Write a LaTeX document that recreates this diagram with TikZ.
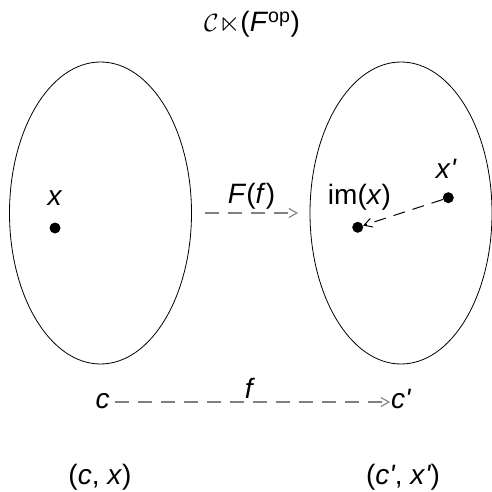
\documentclass[tikz,border=0pt]{standalone}
\usepackage{amssymb}
\usepackage{fontspec}
\setmainfont{Liberation Sans}
\newfontfamily\pf{Liberation Sans}
\usetikzlibrary{arrows.meta,shapes.geometric}
\newcommand{\pr}{{\pf\itshape '}}
\tikzset{
  lbl/.style={font=\fontsize{28}{32}\selectfont, inner sep=1pt},
  blob/.style={draw, ellipse, line width=0.8pt, inner sep=0pt, minimum width=182pt, minimum height=302pt},
  dotn/.style={circle, fill, inner sep=0pt, minimum size=11pt},
  grayarrow/.style={draw=black!50, line width=1.6pt, dash pattern=on 14pt off 9pt, -{Straight Barb[length=8pt,width=9pt,line width=1.1pt]}},
  blackarrow/.style={draw=black, line width=1pt, dash pattern=on 12pt off 8pt, -{Straight Barb[length=8pt,width=9pt,line width=1pt]}}
}
\begin{document}
\begin{tikzpicture}[x=1pt,y=-1pt]
\useasboundingbox (0,0) rectangle (491,492);
\node[lbl, anchor=base] (title) at (252,32) {$\mathcal{C}\ltimes$(\textit{F}\textsuperscript{op})};
\node[blob] (L) at (100.5,213) {};
\node[blob] (R) at (401,213) {};
\node[dotn] (xd) at (55,228) {};
\node[lbl, anchor=base] (xl) at (55,205) {\textit{x}};
\node[dotn] (imd) at (357.7,227.3) {};
\node[lbl, anchor=base] (iml) at (359.5,204) {im(\textit{x})};
\node[dotn] (xpd) at (448.3,197.7) {};
\node[lbl, anchor=base] (xpl) at (446,178) {\textit{x}\pr};
\draw[blackarrow] (xpd) -- (imd);
\coordinate (ff1) at (205,213);
\coordinate (ff2) at (298,213);
\draw[grayarrow] (ff1) -- (ff2);
\node[lbl, anchor=base] (Ff) at (251.5,203) {\textit{F}(\textit{f})};
\node[lbl, anchor=base] (c) at (102.5,408) {\textit{c}};
\node[lbl, anchor=base west] (cp) at (390,408) {\textit{c}\pr};
\coordinate (cs) at (115,402);
\draw[grayarrow] (cs) -- (cp.west |- cs);
\node[lbl, anchor=base] (f) at (250,398) {\textit{f}};
\node[lbl, anchor=base] (cx) at (100,484) {(\textit{c}, \textit{x})};
\node[lbl, anchor=base] (cpxp) at (403,484) {(\textit{c}\pr, \textit{x}\pr)};
\end{tikzpicture}
\end{document}
